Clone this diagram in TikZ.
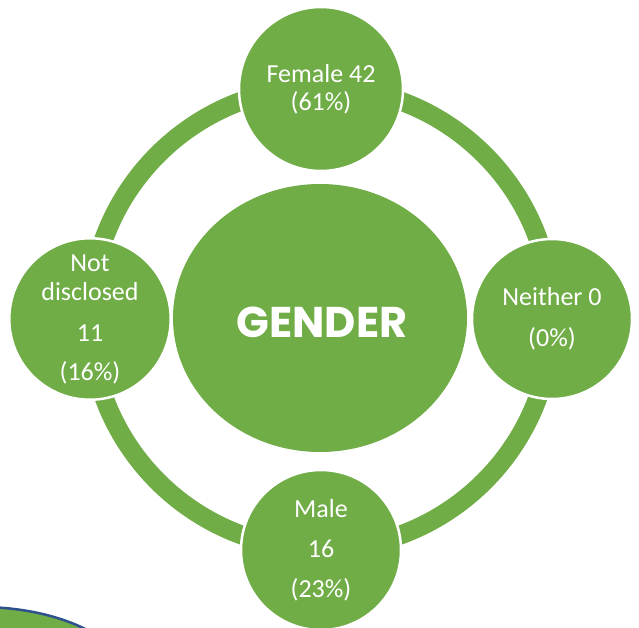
\documentclass[tikz,border=0pt]{standalone}
\usepackage{fontspec}
\setmainfont{Carlito}
\newfontfamily\headfont{Poppins}
\usepackage{tikz}
\usetikzlibrary{shapes.geometric}
\definecolor{leaf}{HTML}{70AD47}
\definecolor{rim}{HTML}{2F528F}
\tikzset{
  bub/.style={circle,fill=leaf,draw=white,line width=2.5pt,minimum size=164pt,
    inner sep=0pt,text=white,align=center,font=\fontsize{26}{29}\selectfont}
}

\begin{document}
\begin{tikzpicture}[x=1pt,y=-1pt]

 \useasboundingbox (0,0) rectangle (639,628);
 \clip (0,0) rectangle (639,628);

 \fill[leaf,draw=rim,line width=2.5pt] (-20,686) ellipse [x radius=152,y radius=79];

 \coordinate (c) at (321,318);
 \draw[leaf,line width=19pt] (c) circle [radius=231];

 \node[fill=leaf,ellipse,minimum width=294pt,minimum height=268pt] (g) at (320,318) {};
 \node[text=white,font=\headfont\bfseries\fontsize{43}{43}\selectfont] (gt) at (322,322) {GENDER};

 \node[bub] (f) at (321,89) {Female 42\\[-1pt](61\%)};

 \node[bub,minimum size=160pt] (n) at (552,319) {Neither 0\\[12pt](0\%)};

 \node[bub,minimum size=160pt] (m) at (321,550) {Male\\[11pt]16\\[11pt](23\%)};

 \node[bub,minimum size=160pt] (d) at (90,319) {Not\\disclosed\\[12pt]11\\[10pt](16\%)};

\end{tikzpicture}
\end{document}
